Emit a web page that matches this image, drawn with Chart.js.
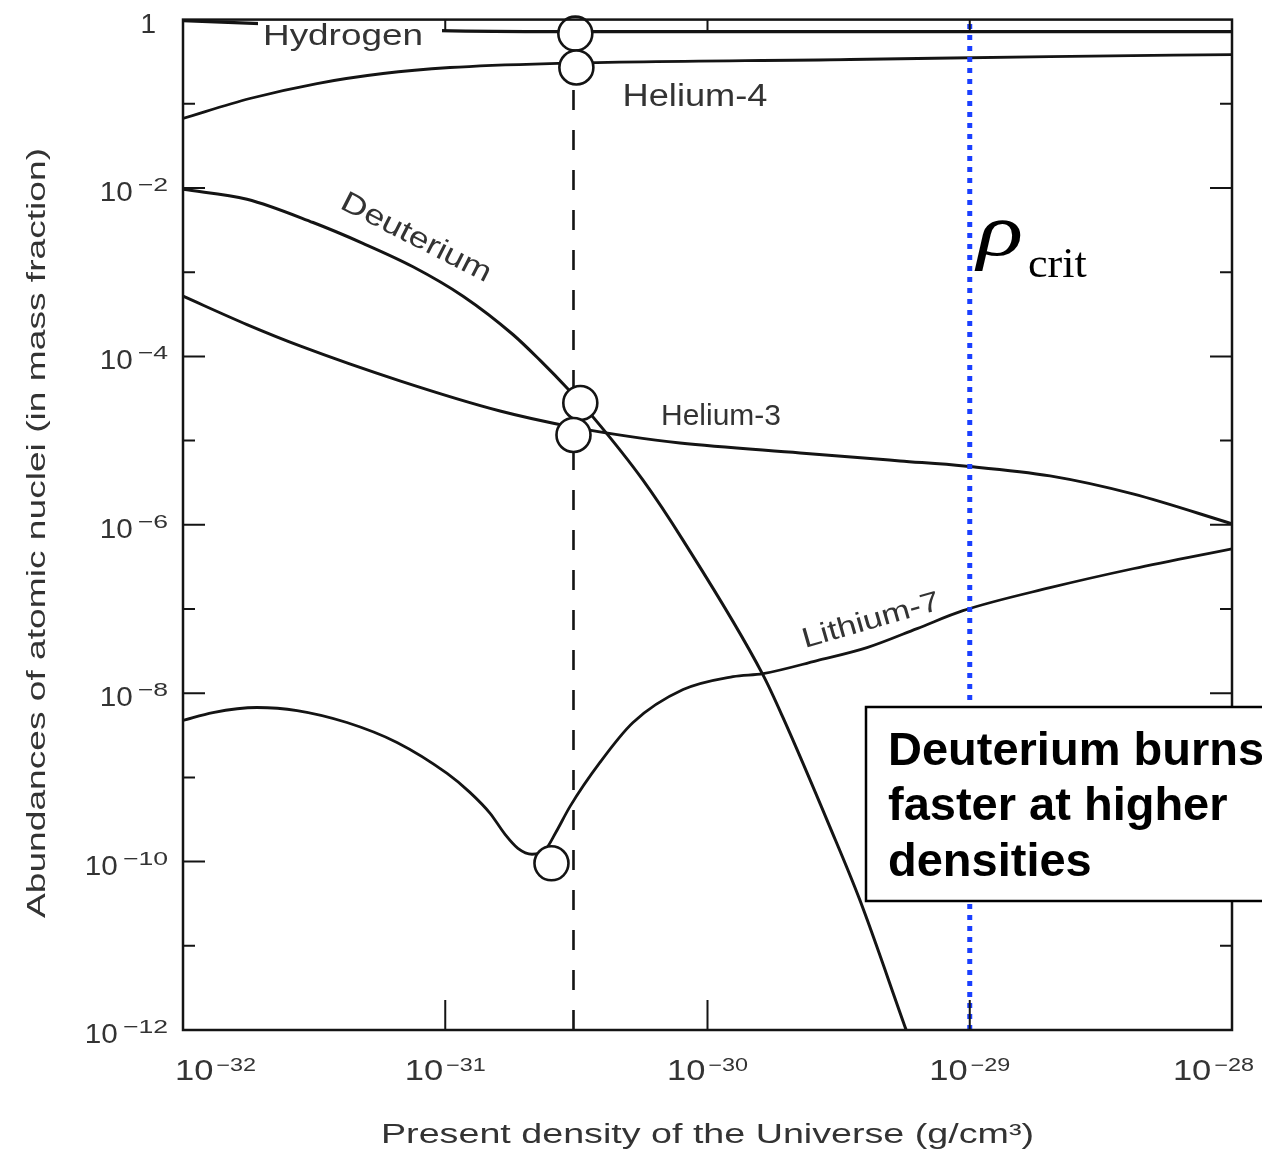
<!DOCTYPE html>
<html>
<head>
<meta charset="utf-8">
<script src="https://cdn.jsdelivr.net/npm/chart.js"></script>
<style>
  html, body { margin: 0; padding: 0; background: #fff; }
  #wrap { width: 1262px; height: 1172px; position: relative; }
</style>
</head>
<body>
<div id="wrap"><canvas id="nucleo"></canvas></div>
<script>
// Values, stored as log10 (density, abundance)
const hydrogenLogX = [-32.0, -31.706, -31.4, -31.02, -30.56, -29.5, -28.0];
const hydrogenLogY = [-0.012, -0.047, -0.09, -0.13, -0.142, -0.142, -0.142];

const helium4LogX = [-32.0, -31.745, -31.489, -31.237, -30.982, -30.601, -29.457, -28.694, -28.0];
const helium4LogY = [-1.174, -0.937, -0.759, -0.640, -0.569, -0.522, -0.474, -0.439, -0.415];

const deuteriumLogX = [-32.0, -31.756, -31.504, -31.314, -31.123, -30.932, -30.742, -30.639, -30.532,
    -30.429, -30.246, -30.093, -29.788, -29.712, -29.533, -29.419, -29.247, -29.171];
const deuteriumLogY = [-2.016, -2.133, -2.41, -2.657, -2.935, -3.285, -3.74, -4.045, -4.388,
    -4.748, -5.47, -6.185, -7.785, -8.29, -9.59, -10.457, -11.96, -12.62];

const helium3LogX = [-32.0, -31.756, -31.554, -31.173, -30.791, -30.513, -30.3, -30.105, -29.647,
    -29.266, -29.022, -28.694, -28.378, -28.0];
const helium3LogY = [-3.285, -3.622, -3.875, -4.29, -4.648, -4.84, -4.95, -5.028, -5.146,
    -5.241, -5.301, -5.419, -5.633, -5.988];

const lithium7LogX = [-32.0, -31.886, -31.718, -31.565, -31.375, -31.184, -30.993, -30.906, -30.829,
    -30.772, -30.723, -30.669, -30.620, -30.578, -30.524, -30.410, -30.284, -30.093, -29.903,
    -29.788, -29.582, -29.392, -29.201, -29.026, -28.694, -28.378, -28.0];
const lithium7LogY = [-8.324, -8.230, -8.170, -8.206, -8.348, -8.585, -8.953, -9.178, -9.427,
    -9.676, -9.842, -9.913, -9.866, -9.652, -9.344, -8.822, -8.348, -7.957, -7.803,
    -7.767, -7.613, -7.459, -7.233, -7.020, -6.747, -6.522, -6.285];

// observed abundances (open circles): H, He-4, D, He-3, Li-7
const observedLogX = [-30.504, -30.500, -30.485, -30.511, -30.595];
const observedLogY = [-0.166, -0.569, -4.553, -4.933, -10.020];

const observedDensityLog = -30.511;   // dashed vertical
const dashedTopLog = -0.569;
const critDensityLog = -29;            // blue dotted, rho_crit

const densityTickExp = [-32, -31, -30, -29, -28];
const abundanceTickExp = [0, -2, -4, -6, -8, -10, -12];

const ink = '#141414';
const textInk = '#333';
const sans = '"Liberation Sans", Arial, sans-serif';
const serif = '"Liberation Serif", "Times New Roman", serif';

const toPoints = (lx, ly) => lx.map((v, i) => ({ x: 10 ** v, y: 10 ** ly[i] }));

function curve(label, lx, ly, width) {
    return {
        label,
        data: toPoints(lx, ly),
        borderColor: ink,
        borderWidth: width,
        pointRadius: 0,
        cubicInterpolationMode: 'monotone',
        order: 5
    };
}

// text centred on (x, y), stretched along its run to the given width
function fitText(ctx, text, x, y, o) {
    ctx.save();
    ctx.font = o.font;
    ctx.translate(x, y);
    if (o.angle) ctx.rotate(o.angle * Math.PI / 180);
    const w = ctx.measureText(text).width;
    ctx.scale(o.width / w, 1);
    ctx.textAlign = 'center';
    ctx.textBaseline = o.baseline || 'alphabetic';
    ctx.fillStyle = o.color || textInk;
    ctx.fillText(text, 0, 0);
    ctx.restore();
}

// left-aligned text with a horizontal stretch factor
function stretchText(ctx, text, x, y, font, sx) {
    ctx.save();
    ctx.font = font;
    ctx.translate(x, y);
    ctx.scale(sx, 1);
    ctx.textAlign = 'left';
    ctx.fillText(text, 0, 0);
    ctx.restore();
}

function measure(ctx, text, font) {
    ctx.font = font;
    return ctx.measureText(text).width;
}

const figureDecor = {
    id: 'figureDecor',
    afterDatasetsDraw(chart) {
        const { ctx, chartArea: a, scales: { x, y } } = chart;
        ctx.save();

        // Hydrogen label sits on top of its own line
        ctx.fillStyle = '#fff';
        ctx.fillRect(258, 20, 184, 32);
        fitText(ctx, 'Hydrogen', 343, 45, { font: '30px ' + sans, width: 160 });
        fitText(ctx, 'Helium-4', 695, 106, { font: '31px ' + sans, width: 145 });
        fitText(ctx, 'Helium-3', 721, 425, { font: '29px ' + sans, width: 120 });
        fitText(ctx, 'Deuterium', 416, 238, { font: '29px ' + sans, width: 165, angle: 27, baseline: 'middle' });
        fitText(ctx, 'Lithium-7', 871, 621, { font: '28px ' + sans, width: 142, angle: -16, baseline: 'middle' });

        // frame
        ctx.strokeStyle = ink;
        ctx.lineWidth = 2.5;
        ctx.strokeRect(a.left, a.top, a.right - a.left, a.bottom - a.top);

        // inward ticks
        ctx.lineWidth = 2;
        ctx.beginPath();
        for (let e = -1; e >= -11; e--) {
            const py = y.getPixelForValue(10 ** e);
            const len = e % 2 === 0 ? 22 : 12;
            ctx.moveTo(a.left, py); ctx.lineTo(a.left + len, py);
            ctx.moveTo(a.right - len, py); ctx.lineTo(a.right, py);
        }
        for (let e = -31; e <= -29; e++) {
            const px = x.getPixelForValue(10 ** e);
            ctx.moveTo(px, a.bottom); ctx.lineTo(px, a.bottom - 30);
            ctx.moveTo(px, a.top); ctx.lineTo(px, a.top + 12);
        }
        ctx.stroke();

        // y tick labels: exponent right edge at x=168
        ctx.fillStyle = textInk;
        ctx.textBaseline = 'alphabetic';
        const yBase = '27px ' + sans, yExp = '19px ' + sans;
        abundanceTickExp.forEach(e => {
            const py = y.getPixelForValue(10 ** e);
            if (e === 0) {
                ctx.font = '28px ' + sans;
                ctx.textAlign = 'right';
                ctx.fillText('1', 156, py + 13);
                return;
            }
            const exp = '\u2212' + (-e);
            const ew = measure(ctx, exp, yExp) * 1.4;
            const bw = measure(ctx, '10', yBase) * 1.1;
            stretchText(ctx, exp, 168 - ew, py + 3, yExp, 1.4);
            stretchText(ctx, '10', 168 - ew - 5 - bw, py + 13, yBase, 1.1);
        });

        // x tick labels
        const xBase = '30px ' + sans, xExp = '18px ' + sans;
        densityTickExp.forEach(e => {
            const px = x.getPixelForValue(10 ** e);
            const exp = '\u2212' + (-e);
            const bw = measure(ctx, '10', xBase) * 1.15;
            const ew = measure(ctx, exp, xExp) * 1.3;
            const total = bw + 3 + ew;
            let left = px - total / 2;
            left = Math.max(175, Math.min(left, 1254 - total));
            stretchText(ctx, '10', left, 1080, xBase, 1.15);
            stretchText(ctx, exp, left + bw + 3, 1071, xExp, 1.3);
        });

        // axis titles
        fitText(ctx, 'Present density of the Universe (g/cm\u00b3)', (a.left + a.right) / 2, 1143,
            { font: '27px ' + sans, width: 653 });
        fitText(ctx, 'Abundances of atomic nuclei (in mass fraction)', 38, 533,
            { font: '25px ' + sans, width: 770, angle: -90, baseline: 'middle' });

        // rho_crit
        ctx.fillStyle = '#000';
        stretchText(ctx, '\u03c1', 977, 255, 'italic 74px ' + serif, 1.3);
        stretchText(ctx, 'crit', 1028, 277, '42px ' + serif, 1.05);

        // call-out box
        ctx.fillStyle = '#fff';
        ctx.fillRect(866, 707, 420, 194);
        ctx.strokeStyle = '#000';
        ctx.lineWidth = 2.5;
        ctx.strokeRect(866, 707, 420, 194);
        ctx.fillStyle = '#000';
        ctx.textAlign = 'left';
        ctx.font = 'bold 47px ' + sans;
        ctx.fillText('Deuterium burns', 888, 765);
        ctx.fillText('faster at higher', 888, 820);
        ctx.fillText('densities', 888, 876);

        ctx.restore();
    }
};

new Chart(document.getElementById('nucleo'), {
    type: 'line',
    data: {
        datasets: [
            {
                label: 'Observed',
                data: toPoints(observedLogX, observedLogY),
                showLine: false,
                pointRadius: 17,
                pointBackgroundColor: '#fff',
                pointBorderColor: ink,
                pointBorderWidth: 2.6,
                clip: false,
                order: 0
            },
            {
                label: 'rho crit',
                data: [{ x: 10 ** critDensityLog, y: 1e-12 }, { x: 10 ** critDensityLog, y: 1 }],
                borderColor: '#1a3fff',
                borderWidth: 5,
                borderDash: [5, 6],
                pointRadius: 0,
                order: 3
            },
            curve('Hydrogen', hydrogenLogX, hydrogenLogY, 3.2),
            curve('Helium-4', helium4LogX, helium4LogY, 2.8),
            curve('Deuterium', deuteriumLogX, deuteriumLogY, 3),
            curve('Helium-3', helium3LogX, helium3LogY, 3),
            curve('Lithium-7', lithium7LogX, lithium7LogY, 2.8),
            {
                label: 'observed density',
                data: [{ x: 10 ** observedDensityLog, y: 1e-12 }, { x: 10 ** observedDensityLog, y: 10 ** dashedTopLog }],
                borderColor: ink,
                borderWidth: 2.6,
                borderDash: [20, 20],
                pointRadius: 0,
                order: 6
            }
        ]
    },
    options: {
        responsive: true,
        maintainAspectRatio: false,
        animation: false,
        layout: { padding: { left: 183, right: 30, top: 18, bottom: 142 } },
        plugins: {
            legend: { display: false },
            tooltip: { enabled: false }
        },
        scales: {
            x: { type: 'logarithmic', min: 1e-32, max: 1e-28, display: false },
            y: { type: 'logarithmic', min: 1e-12, max: 1, display: false }
        }
    },
    plugins: [figureDecor]
});
</script>
</body>
</html>
